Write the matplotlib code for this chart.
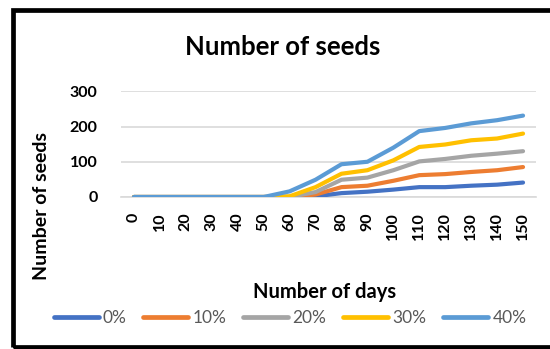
import matplotlib
matplotlib.use("Agg")
import matplotlib.pyplot as plt
from matplotlib.patches import Rectangle

days = ["0", "10", "20", "30", "40", "50", "60", "70", "80", "90",
        "100", "110", "120", "130", "140", "150"]
s0 = [0, 0, 0, 0, 0, 0, 0, 2, 11, 15, 21, 28, 28, 32, 35, 41]
s10 = [0, 0, 0, 0, 0, 0, 0, 7, 28, 32, 46, 62, 65, 71, 76, 85]
s20 = [0, 0, 0, 0, 0, 0, 0, 14, 49, 55, 76, 101, 108, 117, 123, 130]
s30 = [0, 0, 0, 0, 0, 0, 2, 28, 66, 76, 104, 142, 149, 161, 166, 180]
s40 = [0, 0, 0, 0, 0, 0, 16, 49, 93, 100, 140, 187, 196, 209, 218, 231]
series_names = ["0%", "10%", "20%", "30%", "40%"]
series = [s0, s10, s20, s30, s40]
colors = ["#4472C4", "#ED7D31", "#A5A5A5", "#FFC000", "#5B9BD5"]
yticks = [0, 100, 200, 300]

plt.rcParams['font.family'] = ['Lato', 'DejaVu Sans']

W, H = 550, 349
fig = plt.figure(figsize=(W / 100, H / 100), dpi=100)
fig.patch.set_facecolor("white")

ax = fig.add_axes([121 / W, (H - 197) / H, (536 - 121) / W, (197 - 91.3) / H])
for name, vals, c in zip(series_names, series, colors):
    ax.plot(days, vals, color=c, lw=3.0, label=name, solid_capstyle="round",
            solid_joinstyle="round", zorder=3)

ax.set_xlim(-0.5, len(days) - 0.5)
ax.set_ylim(0, 300)
ax.set_yticks(yticks)
ax.set_yticklabels([str(v) for v in yticks], fontsize=11.5, fontweight="bold")
ax.grid(axis="y", color="#D9D9D9", lw=1.2, zorder=0)
ax.grid(axis="x", visible=False)
for sp in ["top", "right", "left"]:
    ax.spines[sp].set_visible(False)
ax.spines["bottom"].set_color("#D9D9D9")
ax.spines["bottom"].set_linewidth(1.2)
ax.tick_params(axis="both", length=0)
ax.tick_params(axis="y", pad=17)
ax.tick_params(axis="x", pad=11)
for lab in ax.get_xticklabels():
    lab.set_rotation(90)
    lab.set_fontsize(11.5)
    lab.set_fontweight("bold")

fig.text(283 / W, 1 - 47 / H, "Number of seeds", ha="center", va="center",
         fontsize=18.5, fontweight="bold")
fig.text(325 / W, 1 - 292 / H, "Number of days", ha="center", va="center",
         fontsize=14.5, fontweight="bold")
fig.text(42 / W, 1 - 206 / H, "Number of seeds", ha="center", va="center",
         rotation=90, fontsize=14, fontweight="bold")

handles, labels = ax.get_legend_handles_labels()
leg = fig.legend(handles, labels, loc="center", bbox_to_anchor=(290 / W, 1 - 318 / H),
                 ncol=5, frameon=False, fontsize=12.5, handlelength=2.6,
                 handletextpad=0.25, columnspacing=0.95, borderpad=0)
for t in leg.get_texts():
    t.set_color("#595959")
for l in leg.get_lines():
    l.set_linewidth(3.4)

fig.patches.append(Rectangle((12.5 / W, 2 / H), (W + 20 - 12.5) / W, (H - 9.5 - 2) / H,
                             transform=fig.transFigure, fill=False, edgecolor="black",
                             lw=3.4, clip_on=False))

fig.savefig("out.png", dpi=100)
